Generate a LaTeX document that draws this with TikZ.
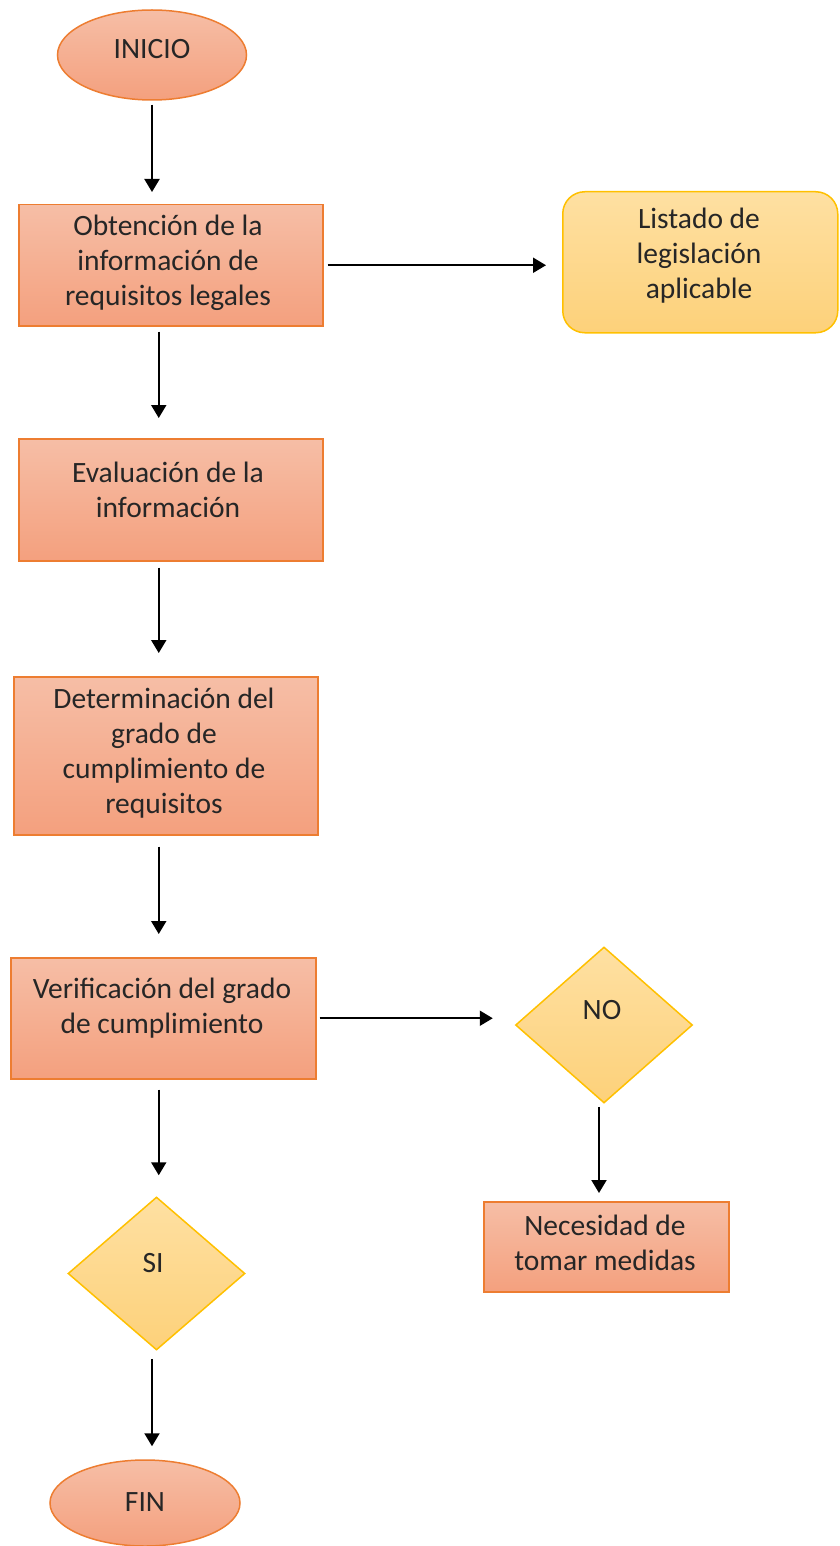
\documentclass[tikz,border=0pt]{standalone}
\usepackage{fontspec}
\setmainfont{Carlito}
\usetikzlibrary{shapes.geometric,arrows.meta}
\definecolor{otop}{HTML}{F6BEA6}
\definecolor{obot}{HTML}{F4A07E}
\definecolor{oline}{HTML}{ED7D31}
\definecolor{ytop}{HTML}{FEE0A2}
\definecolor{ybot}{HTML}{FDD17A}
\definecolor{yline}{HTML}{FFC000}
\begin{document}
\begin{tikzpicture}[x=1pt,y=-1pt,
  obox/.style={draw=oline, line width=1.5pt, top color=otop, bottom color=obot, inner sep=0pt},
  ybox/.style={draw=yline, line width=1.5pt, top color=ytop, bottom color=ybot, inner sep=0pt},
  dia/.style={ybox, diamond},
  txt/.style={font=\fontsize{29.5}{35}\selectfont, align=center, text=black!85, inner sep=0pt},
  arr/.style={-{Triangle[width=15pt,length=13pt]}, line width=2pt}]
\useasboundingbox (0,0) rectangle (839,1546);
% shapes
\node[obox, ellipse, minimum width=189pt, minimum height=90pt] (ini) at (152,55) {};
\node[obox, minimum width=304pt, minimum height=121pt, anchor=north west] (b1) at (18,204) {};
\node[ybox, rounded corners=22pt, minimum width=275pt, minimum height=141pt, anchor=north west] (lst) at (562,191) {};
\node[obox, minimum width=304pt, minimum height=122pt, anchor=north west] (b2) at (18,438) {};
\node[obox, minimum width=304pt, minimum height=158pt, anchor=north west] (b3) at (13,676) {};
\node[obox, minimum width=305pt, minimum height=121pt, anchor=north west] (b4) at (10,957) {};
\node[dia, minimum width=177pt, minimum height=156pt] (no) at (604,1025) {};
\node[obox, minimum width=245pt, minimum height=90pt, anchor=north west] (nec) at (483,1201) {};
\node[dia, minimum width=177pt, minimum height=153pt] (si) at (156.5,1273.5) {};
\node[obox, ellipse, minimum width=190pt, minimum height=86pt] (fin) at (145,1503) {};
% texts
\node[txt] (t0) at (152,49) {INICIO};
\node[txt] (t1) at (168,263) {Obtención de la\\información de\\requisitos legales};
\node[txt] (tl) at (699,256) {Listado de\\legislación\\aplicable};
\node[txt] (t2) at (168,490) {Evaluación de la\\información};
\node[txt] (t3) at (164,753) {Determinación del\\grado de\\cumplimiento de\\requisitos};
\node[txt] (t4) at (162,1008) {Verificación del grado\\de cumplimiento};
\node[txt] (tno) at (602,1010) {NO};
\node[txt] (tsi) at (153,1263) {SI};
\node[txt] (tn) at (605,1243) {Necesidad de\\tomar medidas};
\node[txt] (tf) at (145,1502) {FIN};
% connectors
\draw[arr, shorten <=4pt, shorten >=12pt] (ini.south) -- (ini.south |- b1.north);
\draw[arr, shorten <=4pt, shorten >=16pt] (b1.east) -- (b1.east -| lst.west);
\draw[arr, shorten <=5pt, shorten >=20pt] ([xshift=-12pt]b1.south) -- ([xshift=-12pt]b1.south |- b2.north);
\draw[arr, shorten <=6pt, shorten >=23pt] ([xshift=-12pt]b2.south) -- ([xshift=-12pt]b2.south |- b3.north);
\draw[arr, shorten <=11pt, shorten >=23pt] ([xshift=-7pt]b3.south) -- ([xshift=-7pt]b3.south |- b4.north);
\draw[arr, shorten <=3pt, shorten >=22pt] (b4.east) -- (b4.east -| no.west);
\draw[arr, shorten <=10pt, shorten >=21pt] ([xshift=-4.5pt]b4.south) -- ([xshift=-4.5pt]b4.south |- si.north);
\draw[arr, shorten <=3pt, shorten >=8pt] ([xshift=-5pt]no.south) -- ([xshift=-5pt]no.south |- nec.north);
\draw[arr, shorten <=8pt, shorten >=13pt] ([xshift=-4.5pt]si.south) -- ([xshift=-4.5pt]si.south |- fin.north);
\end{tikzpicture}
\end{document}
